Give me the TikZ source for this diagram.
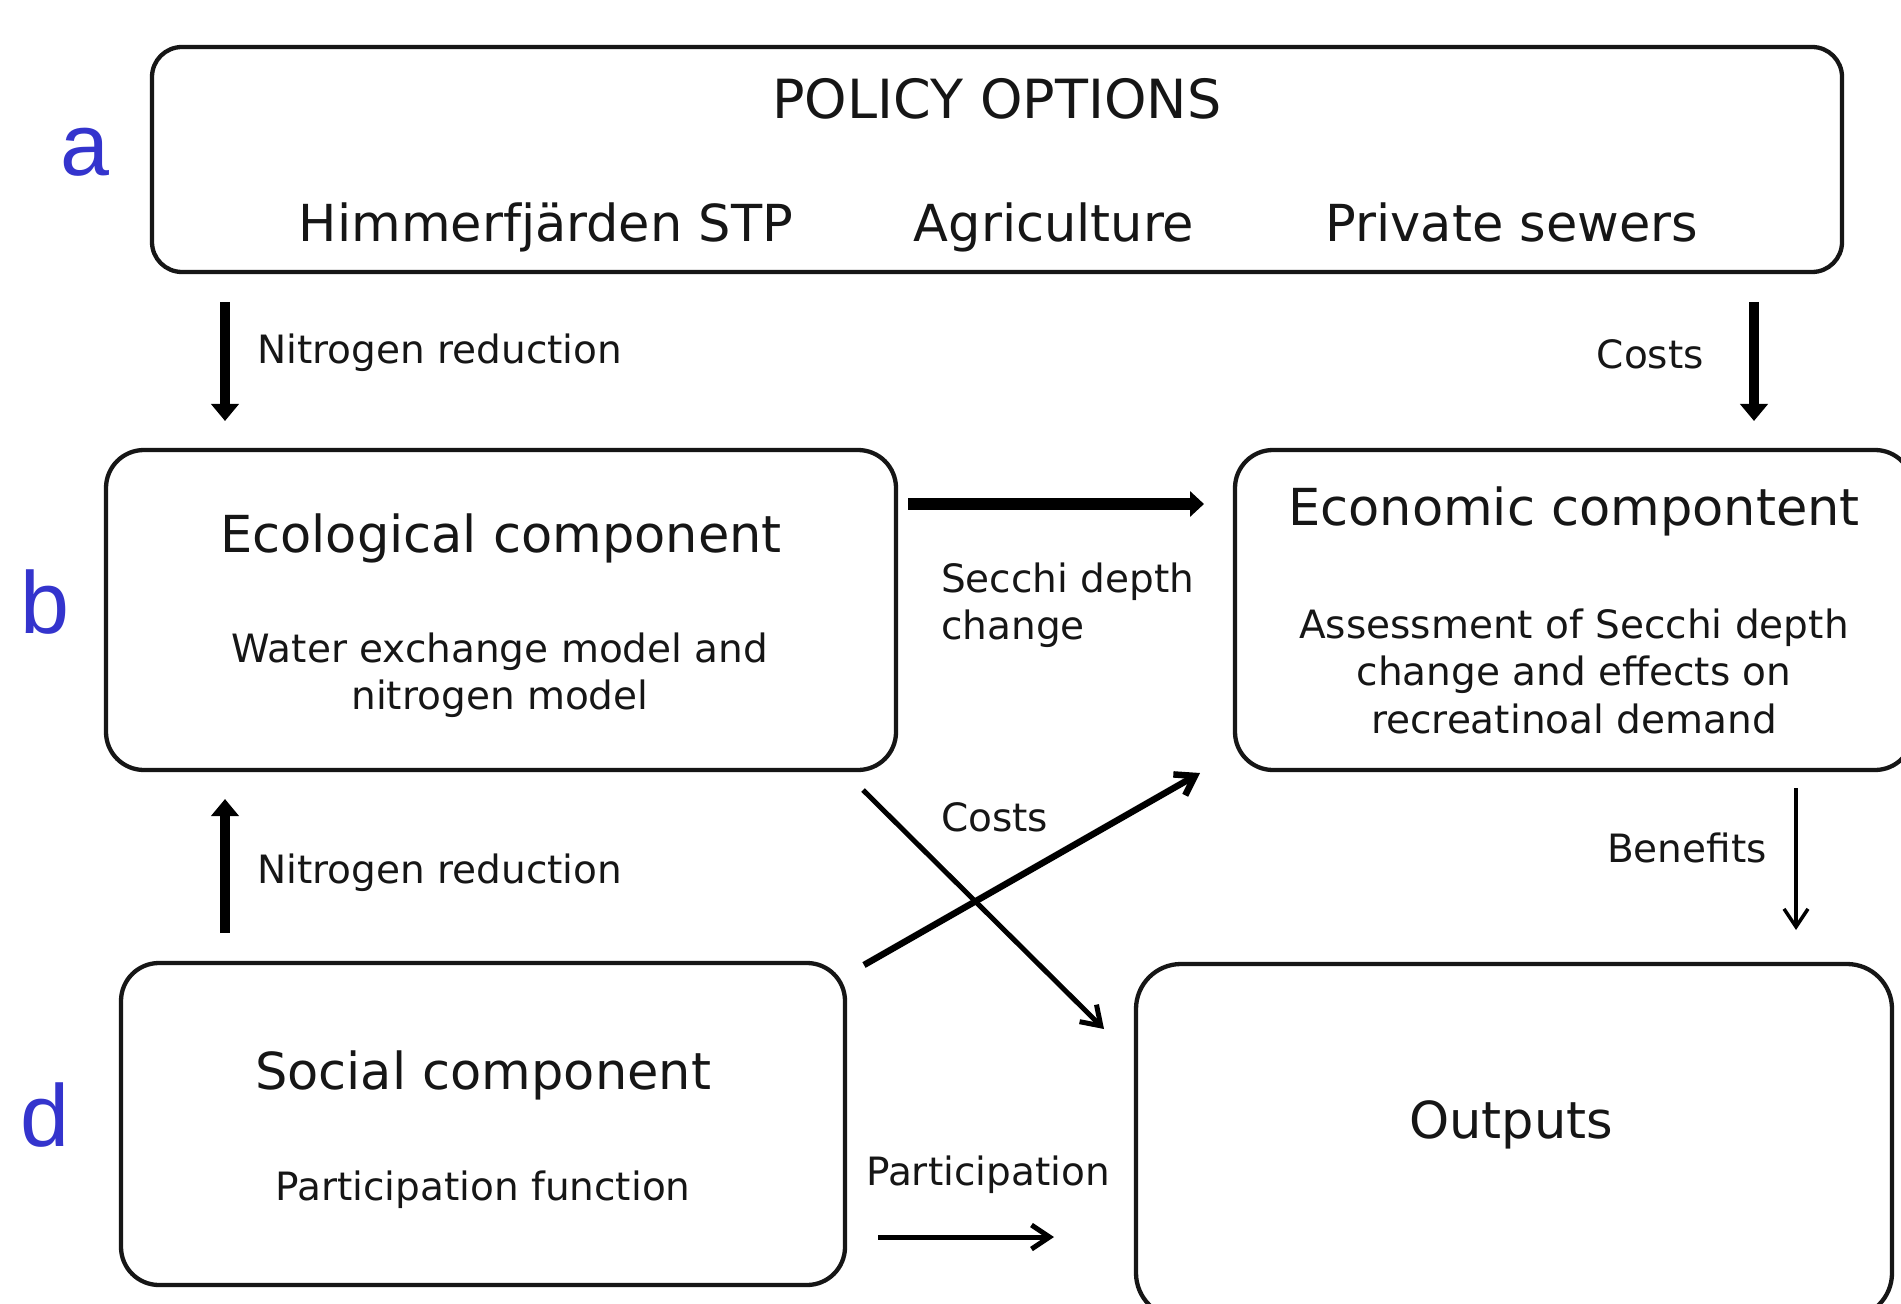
\documentclass[tikz,border=0pt]{standalone}
\usepackage{fontspec}
\usetikzlibrary{arrows.meta}
\newfontfamily\diagfont{DejaVu Sans}
\newfontfamily\tagfont{Liberation Sans}
\definecolor{tagblue}{RGB}{52,52,205}
\definecolor{ink}{RGB}{22,22,22}

\begin{document}
\begin{tikzpicture}[x=1bp,y=-1bp,
  box/.style={draw=ink, line width=4.3bp, rounded corners=38bp, inner sep=0, outer sep=0},
  big/.style={font=\diagfont\fontsize{51bp}{60bp}\selectfont, text=ink, inner sep=0},
  small/.style={font=\diagfont\fontsize{39bp}{47.5bp}\selectfont, text=ink, inner sep=0},
  tag/.style={font=\tagfont\fontsize{88bp}{88bp}\selectfont, text=tagblue, inner sep=0},
  heavy/.style={draw=black, line width=9.5bp, -{Triangle[length=17bp,width=27bp]}},
  bar/.style={draw=black, line width=12bp, -{Triangle[length=14bp,width=25bp]}},
  thin/.style={draw=black, line width=#1, -{Straight Barb[length=18bp,width=24bp,line width=#1]}},
]
\useasboundingbox[fill=white] (0,0) rectangle (1901,1304);

% ---- boxes ----
\node[box, rounded corners=30bp, anchor=north west, minimum width=1690bp, minimum height=225bp] (policy) at (152,47) {};
\node[box, anchor=north west, minimum width=790bp, minimum height=320bp] (eco) at (106,450) {};
\node[box, anchor=north west, minimum width=678bp, minimum height=320bp] (econ) at (1235,450) {};
\node[box, anchor=north west, minimum width=724bp, minimum height=322bp] (soc) at (121,963) {};
\node[box, rounded corners=45bp, anchor=north west, minimum width=756bp, minimum height=354bp] (out) at (1136,964) {};

% ---- panel tags ----
\node[tag, anchor=base] (ta) at (85,176) {a};
\node[tag, anchor=base] (tb) at (45,633) {b};
\node[tag, anchor=base] (td) at (45,1146) {d};

% ---- policy options ----
\node[big, font=\diagfont\fontsize{54bp}{60bp}\selectfont, anchor=base] (ptitle) at (997,119) {POLICY OPTIONS};
\node[big, anchor=base] (p1) at (546,242) {Himmerfjärden STP};
\node[big, anchor=base] (p2) at (1054,242) {Agriculture};
\node[big, anchor=base] (p3) at (1512,242) {Private sewers};

% ---- component texts ----
\node[big, anchor=base] (ecot) at (501,552) {Ecological component};
\node[small, align=center] (ecos) at (500,675) {Water exchange model and\\nitrogen model};
\node[big, anchor=base] (econt) at (1574,525) {Economic compontent};
\node[small, align=center] (econs) at (1574,671) {Assessment of Secchi depth\\change and effects on\\recreatinoal demand};
\node[big, anchor=base] (soct) at (483,1089) {Social component};
\node[small, anchor=base] (socs) at (483,1200) {Participation function};
\node[big, anchor=base] (outt) at (1511,1138) {Outputs};

% ---- connector labels ----
\node[small, anchor=base west] (l1) at (257,364) {Nitrogen reduction};
\node[small, anchor=base east] (l2) at (1704,369) {Costs};
\node[small, anchor=base west] (l3) at (941,592) {Secchi depth};
\node[small, anchor=base west] (l3b) at (941,639) {change};
\node[small, anchor=base west] (l4) at (941,831) {Costs};
\node[small, anchor=base west] (l5) at (257,883) {Nitrogen reduction};
\node[small, anchor=base east] (l6) at (1767,862) {Benefits};
\node[small, anchor=base] (l7) at (988,1185) {Participation};

% ---- connector end points ----
\coordinate (a1s) at (225,302);  \coordinate (a1e) at (225,421);
\coordinate (a2s) at (1754,302); \coordinate (a2e) at (1754,421);
\coordinate (a3s) at (908,504);  \coordinate (a3e) at (1204,504);
\coordinate (a4s) at (863,790);  \coordinate (a4e) at (1104,1029);
\coordinate (a5s) at (864,965);  \coordinate (a5e) at (1200,773);
\coordinate (a6s) at (225,933);  \coordinate (a6e) at (225,799);
\coordinate (a7s) at (1796,788); \coordinate (a7e) at (1796,930);
\coordinate (a8s) at (878,1237); \coordinate (a8e) at (1054,1237);

% ---- connectors ----
\draw[heavy] (a1s) -- (a1e);
\draw[heavy] (a2s) -- (a2e);
\draw[bar] (a3s) -- (a3e);
\draw[thin=5bp] (a4s) -- (a4e);
\draw[thin=6.5bp] (a5s) -- (a5e);
\draw[heavy] (a6s) -- (a6e);
\draw[thin=3.5bp] (a7s) -- (a7e);
\draw[thin=5bp] (a8s) -- (a8e);
\end{tikzpicture}
\end{document}
